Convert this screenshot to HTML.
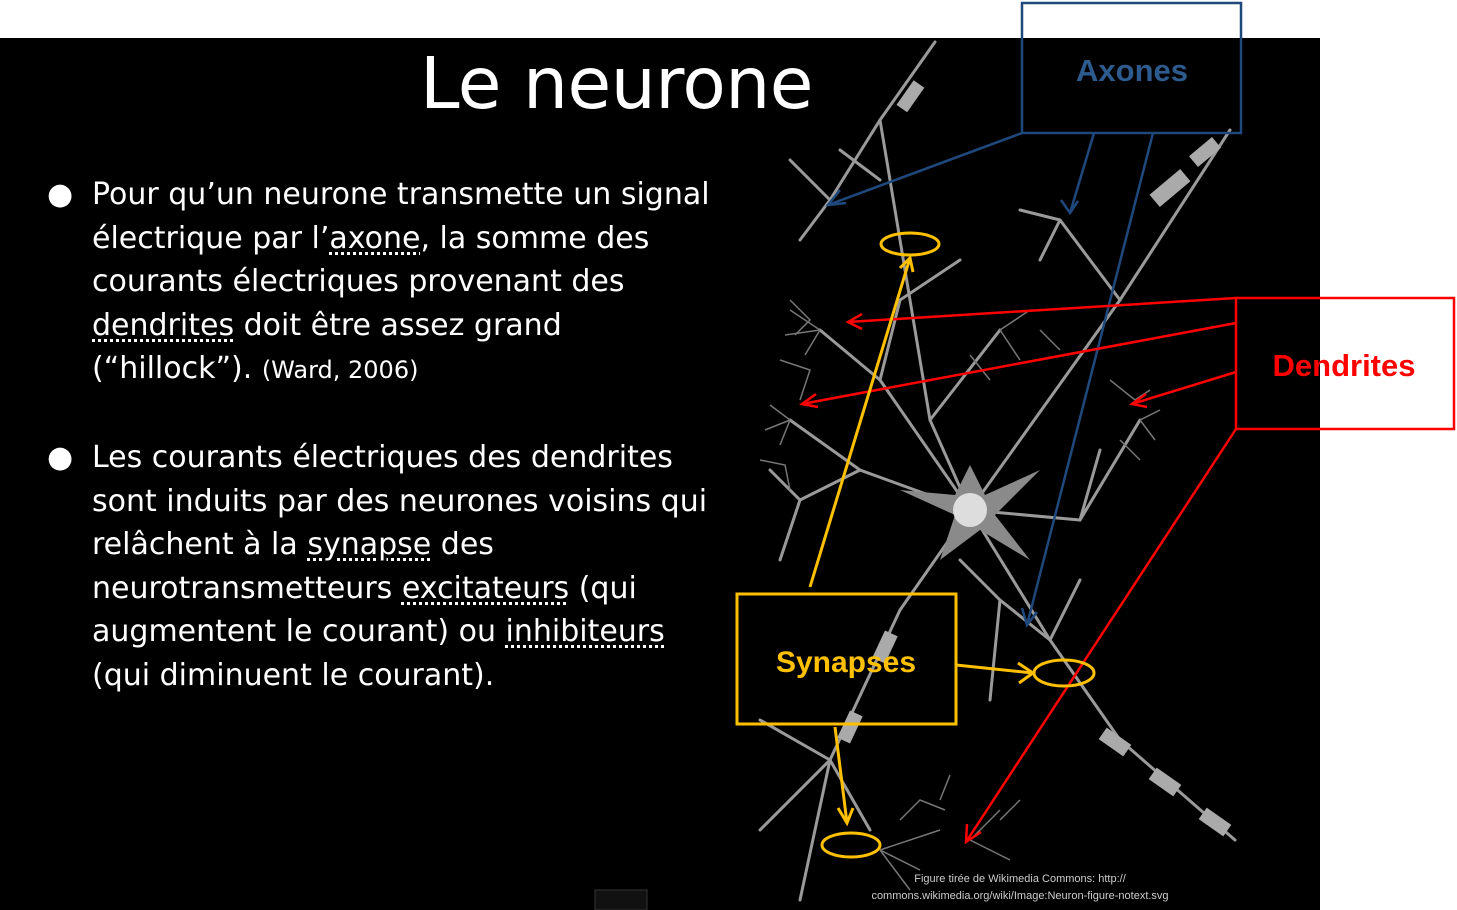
<!DOCTYPE html>
<html><head><meta charset="utf-8"><style>
body{margin:0;width:1457px;height:910px;background:#fff;position:relative;overflow:hidden;font-family:"Liberation Sans",sans-serif}
#bg{position:absolute;left:0;top:38px;width:1320px;height:872px;background:#000}
.t{position:absolute;color:#fff;font-family:"DejaVu Sans","Liberation Sans",sans-serif;white-space:nowrap}
.u{text-decoration:underline dotted;text-underline-offset:4px}
</style></head><body>
<div id="bg"></div>
<div class="t" style="left:420px;top:42px;font-size:71px;letter-spacing:-0.5px">Le neurone</div>
<div class="t" style="left:47px;top:173px;font-size:30px;line-height:43.5px">
<div style="position:absolute;left:0;top:0">●</div>
<div style="margin-left:45px">Pour qu’un neurone transmette un signal<br>électrique par l’<span class="u">axone</span>, la somme des<br>courants électriques provenant des<br><span class="u">dendrites</span> doit être assez grand<br>(“hillock”). <span style="font-size:24px">(Ward, 2006)</span></div>
</div>
<div class="t" style="left:47px;top:436px;font-size:30px;line-height:43.5px">
<div style="position:absolute;left:0;top:0">●</div>
<div style="margin-left:45px">Les courants électriques des dendrites<br>sont induits par des neurones voisins qui<br>relâchent à la <span class="u">synapse</span> des<br>neurotransmetteurs <span class="u">excitateurs</span> (qui<br>augmentent le courant) ou <span class="u">inhibiteurs</span><br>(qui diminuent le courant).</div>
</div>
<svg style="position:absolute;left:0;top:0" width="1457" height="910">
<g stroke="#9a9a9a" stroke-width="3" fill="none" stroke-linecap="round">
<path d="M970 510 L1120 300 L1230 130"/>
<path d="M970 510 L930 420 L880 120 L935 42"/>
<path d="M970 510 L900 610 L830 760 L800 900"/>
<path d="M970 510 L1050 640 L1120 740 L1235 840"/>
<path d="M970 510 L1080 520 L1140 420"/>
<path d="M970 510 L860 470 L790 420"/>
<path d="M970 510 L880 380 L820 330"/>
<path d="M1120 300 L1060 220 L1020 210 M1060 220 L1040 260"/>
<path d="M880 120 L830 200 L790 160 M830 200 L800 240 M880 180 L840 150"/>
<path d="M1050 640 L1000 600 L960 560 M1050 640 L1080 580 M1000 600 L990 700"/>
<path d="M830 760 L760 720 M830 760 L760 830 M830 760 L870 830"/>
<path d="M880 380 L900 300 L960 260 M930 420 L1000 330 M1080 520 L1100 450"/>
<path d="M860 470 L800 500 L770 470 M800 500 L780 560"/>
</g>
<g stroke="#777" stroke-width="1.5" fill="none">
<path d="M790 420 l-20 -15 m20 15 l-25 10 m25 -10 l-10 25 M820 330 l-30 -20 m30 20 l-35 5 m35 -5 l-15 25 M1140 420 l20 -10 m-20 10 l15 20 M880 850 l40 20 m-40 -20 l60 -20 m-60 20 l30 40 M970 840 l30 -30 m-30 30 l40 20 M1000 330 l30 -20 m-30 20 l20 30"/>
<path d="M790 300 l20 20 l-15 15 M780 360 l30 10 l-10 30 M760 460 l25 5 l5 25 M1110 380 l25 20 l15 -10 M1120 440 l20 20 M900 820 l20 -20 l25 10 M940 800 l10 -25 M1000 820 l20 -20 M990 380 l-20 -25 M1060 350 l-20 -20"/>
</g>
<g fill="#aaa">
<rect x="1150" y="180" width="40" height="16" transform="rotate(-40 1170 188)"/>
<rect x="1190" y="145" width="30" height="14" transform="rotate(-40 1205 152)"/>
<rect x="895" y="90" width="30" height="13" transform="rotate(-55 910 96)"/>
<rect x="835" y="720" width="30" height="14" transform="rotate(-65 850 727)"/>
<rect x="870" y="640" width="30" height="14" transform="rotate(-65 885 647)"/>
<rect x="1100" y="735" width="30" height="14" transform="rotate(35 1115 742)"/>
<rect x="1150" y="775" width="30" height="14" transform="rotate(35 1165 782)"/>
<rect x="1200" y="815" width="30" height="14" transform="rotate(35 1215 822)"/>
</g>
<path d="M970 465 L985 495 L1040 470 L995 515 L1030 560 L980 530 L940 560 L955 515 L900 490 L955 495 Z" fill="#8a8a8a"/>
<circle cx="970" cy="510" r="17" fill="#ddd"/>
<text x="1020" y="882" font-size="11" fill="#ccc" text-anchor="middle" font-family="Liberation Sans">Figure tirée de Wikimedia Commons: http://</text>
<text x="1020" y="899" font-size="11" fill="#ccc" text-anchor="middle" font-family="Liberation Sans">commons.wikimedia.org/wiki/Image:Neuron-figure-notext.svg</text>
<rect x="595" y="890" width="52" height="20" fill="#111" stroke="#333"/>
<g stroke="#1f497d" stroke-width="2.5" fill="none">
<rect x="1022" y="3" width="219" height="130"/>
<path d="M1022 133 L828 205 M1094 133 L1070 213 M1153 133 L1027 625"/>
<path d="M840 190 L828 205 L846 203 M1061 200 L1070 213 L1078 201 M1022 608 L1027 625 L1037 612"/>
</g>
<text x="1132" y="81" font-size="31" font-weight="bold" fill="#2d5b8e" text-anchor="middle" font-family="Liberation Sans">Axones</text>
<g stroke="#f00" stroke-width="2.5" fill="none">
<rect x="1236" y="298" width="218" height="131"/>
<path d="M1236 298 L848 322 M1236 323 L802 404 M1236 372 L1132 404 M1236 429 L966 842"/>
<path d="M862 314 L848 322 L862 329 M816 394 L802 404 L818 407 M1146 394 L1132 404 L1147 407 M967 824 L966 842 L981 832"/>
</g>
<text x="1344" y="376" font-size="31" font-weight="bold" fill="#f00" text-anchor="middle" font-family="Liberation Sans">Dendrites</text>
<g stroke="#ffc000" stroke-width="3" fill="none">
<rect x="737" y="594" width="219" height="130"/>
<ellipse cx="910" cy="244" rx="29" ry="11"/>
<ellipse cx="1064" cy="673" rx="30" ry="13"/>
<ellipse cx="851" cy="845" rx="29" ry="12"/>
<path d="M810 587 L910 258 M956 665 L1033 673 M835 727 L847 823"/>
<path d="M900 268 L910 258 L913 272 M1018 663 L1033 673 L1019 683 M838 808 L847 823 L853 808"/>
</g>
<text x="846" y="672" font-size="30" font-weight="bold" fill="#ffc000" text-anchor="middle" font-family="Liberation Sans">Synapses</text>
</svg>
</body></html>
